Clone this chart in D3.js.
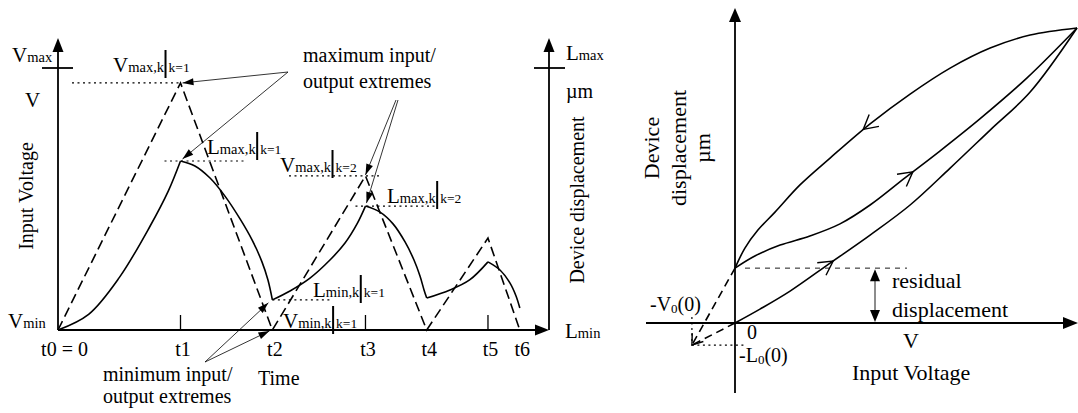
<!DOCTYPE html>
<html><head><meta charset="utf-8">
<script src="https://cdn.jsdelivr.net/npm/d3@7"></script>
<style>
body{margin:0;background:#fff}
svg{display:block;font-family:"Liberation Serif","Times New Roman",serif;fill:#000}
</style></head><body>
<svg id="chart" width="1078" height="413"></svg>
<script>
// ---- Time response: switching instants ----
const timeLabels = ["t0 = 0", "t1", "t2", "t3", "t4", "t5", "t6"];
const timeValues = [0, 1, 1.75, 2.51, 3.01, 3.51, 3.77];
const tickedTimes = [1, 2.51, 3.51];

// Input voltage, normalised (Vmin = 0, Vmax = 1), at each switching instant
const inputVoltage = [0, 0.943, 0, 0.588, 0, 0.351, 0];

// Device displacement, normalised (Lmin = 0, Lmax = 1); one branch per interval [t, L]
const dispBranch1 = [[0, 0], [0.25, 0.06], [0.5, 0.2], [0.75, 0.395], [0.9, 0.53], [1, 0.645]];
const dispBranch2 = [[1, 0.645], [1.118, 0.626], [1.241, 0.58], [1.363, 0.511], [1.486, 0.424], [1.584, 0.344], [1.665, 0.26], [1.714, 0.191], [1.75, 0.115]];
const dispBranch3 = [[1.75, 0.115], [1.894, 0.149], [2.057, 0.198], [2.22, 0.267], [2.343, 0.332], [2.441, 0.405], [2.51, 0.473]];
const dispBranch4 = [[2.51, 0.473], [2.629, 0.45], [2.735, 0.405], [2.833, 0.336], [2.906, 0.267], [2.955, 0.206], [2.988, 0.153], [3.01, 0.122]];
const dispBranch5 = [[3.01, 0.122], [3.2, 0.153], [3.36, 0.191], [3.51, 0.26]];
const dispBranch6 = [[3.51, 0.26], [3.608, 0.229], [3.69, 0.179], [3.739, 0.13], [3.77, 0.084]];

// ---- Hysteresis loop: displacement vs input voltage [V, L], normalised ----
const loopDescending = [[0, 0.186], [0.029, 0.254], [0.067, 0.315], [0.117, 0.376], [0.19, 0.468], [0.278, 0.559], [0.395, 0.675], [0.512, 0.776], [0.629, 0.864], [0.746, 0.932], [0.863, 0.976], [1, 1]];
const loopAscending = [[0, 0.186], [0.058, 0.227], [0.132, 0.264], [0.219, 0.295], [0.307, 0.336], [0.395, 0.4], [0.497, 0.492], [0.599, 0.583], [0.716, 0.692], [0.854, 0.831], [1, 1]];
const virginCurve = [[0, 0], [0.073, 0.047], [0.161, 0.108], [0.278, 0.203], [0.395, 0.298], [0.512, 0.4], [0.629, 0.525], [0.746, 0.654], [0.863, 0.783], [1, 1]];
const residualDisp = 0.186;
const offsetV0 = -0.126;
const offsetL0 = -0.075;

const svg = d3.select("#chart");

// ---------- helpers ----------
function filledArrow(g, x1, y1, x2, y2, len, wid) {
  const a = Math.atan2(y2 - y1, x2 - x1);
  const bx = x2 - len * Math.cos(a), by = y2 - len * Math.sin(a);
  const nx = -Math.sin(a) * wid / 2, ny = Math.cos(a) * wid / 2;
  g.append("path")
    .attr("d", `M${x2},${y2}L${bx + nx},${by + ny}L${bx - nx},${by - ny}Z`)
    .attr("fill", "#000").attr("stroke", "none");
}
function chevron(g, x, y, angle, len, spread) {
  const pts = [angle + Math.PI - spread, angle + Math.PI + spread]
    .map(b => [x + len * Math.cos(b), y + len * Math.sin(b)]);
  g.append("path")
    .attr("d", `M${pts[0][0]},${pts[0][1]}L${x},${y}L${pts[1][0]},${pts[1][1]}`)
    .attr("fill", "none").attr("stroke", "#000").attr("stroke-width", 1.4);
}
// point on a path (monotone in x) at a given x, with its local direction
function pointAtX(node, px, forward) {
  const total = node.getTotalLength();
  let lo = 0, hi = total;
  for (let i = 0; i < 40; i++) {
    const mid = (lo + hi) / 2;
    if (node.getPointAtLength(mid).x < px) lo = mid; else hi = mid;
  }
  const p = node.getPointAtLength(lo);
  const q = node.getPointAtLength(Math.min(total, lo + 4));
  const r = node.getPointAtLength(Math.max(0, lo - 4));
  let ang = Math.atan2(q.y - r.y, q.x - r.x);
  if (!forward) ang += Math.PI;
  return {x: p.x, y: p.y, ang};
}
// symbol with inline subscript, e.g. V max  (both on one baseline)
function symbolLabel(g, x, y, main, sub, size, subSize) {
  const t = g.append("text").attr("x", x).attr("y", y).attr("font-size", size);
  t.append("tspan").text(main);
  t.append("tspan").attr("font-size", subSize).text(sub);
  return t;
}
// extreme label: V max,k | k=1
function extremeLabel(g, x, y, main, sub, cond) {
  const t = symbolLabel(g, x, y, main, sub, 21, 14.5);
  const w = t.node().getComputedTextLength();
  const bx = x + w + 1.5;
  g.append("line").attr("x1", bx).attr("x2", bx).attr("y1", y - 22).attr("y2", y + 6)
    .attr("stroke", "#000").attr("stroke-width", 2);
  g.append("text").attr("x", bx + 3).attr("y", y).attr("font-size", 13.5).text(cond);
}

// ================= LEFT: time response =================
const left = svg.append("g");
const x = d3.scaleLinear().domain([0, 4]).range([58, 548]);
const y = d3.scaleLinear().domain([0, 1]).range([330, 68]);
const yL = d3.scaleLinear().domain([0, 1]).range([330, 68]);

// axes
const axisStroke = 1.8;
left.append("line").attr("x1", x(0)).attr("x2", x(0)).attr("y1", y(0)).attr("y2", 48)
  .attr("stroke", "#000").attr("stroke-width", axisStroke);
filledArrow(left, x(0), 60, x(0), 38, 14, 11);
left.append("line").attr("x1", x(0)).attr("x2", 540).attr("y1", y(0)).attr("y2", y(0))
  .attr("stroke", "#000").attr("stroke-width", axisStroke);
filledArrow(left, 530, y(0), 549, y(0), 14, 11);
left.append("line").attr("x1", 549).attr("x2", 549).attr("y1", y(0)).attr("y2", 48)
  .attr("stroke", "#000").attr("stroke-width", axisStroke);
filledArrow(left, 549, 60, 549, 38, 14, 11);
// Vmax / Lmax ticks
left.append("line").attr("x1", 42).attr("x2", 73).attr("y1", y(1)).attr("y2", y(1))
  .attr("stroke", "#000").attr("stroke-width", axisStroke);
left.append("line").attr("x1", 534).attr("x2", 565).attr("y1", yL(1)).attr("y2", yL(1))
  .attr("stroke", "#000").attr("stroke-width", axisStroke);

// time tick labels via d3 axis
const xAxis = d3.axisBottom(x).tickValues(timeValues)
  .tickFormat((d, i) => timeLabels[i]).tickSize(0).tickPadding(12);
const ax = left.append("g").attr("transform", `translate(0,${y(0)})`).call(xAxis);
ax.select(".domain").remove();
ax.selectAll("text").attr("font-size", 20).attr("font-family", "Liberation Serif")
  .attr("fill", "#000").attr("dx", (d, i) => i === 0 ? 6 : 2);
// inner tick marks
left.selectAll("line.tk").data(tickedTimes).join("line").attr("class", "tk")
  .attr("x1", d => x(d)).attr("x2", d => x(d)).attr("y1", y(0)).attr("y2", y(0) - 15)
  .attr("stroke", "#000").attr("stroke-width", 1.3);

// input voltage (dashed)
const vData = timeValues.map((t, i) => [t, inputVoltage[i]]);
left.append("path").datum(vData)
  .attr("d", d3.line().x(d => x(d[0])).y(d => y(d[1])))
  .attr("fill", "none").attr("stroke", "#000").attr("stroke-width", 1.6)
  .attr("stroke-dasharray", "10,5");

// displacement (solid)
const dispLine = d3.line().x(d => x(d[0])).y(d => yL(d[1])).curve(d3.curveCatmullRom.alpha(0.5));
[dispBranch1, dispBranch2, dispBranch3, dispBranch4, dispBranch5, dispBranch6].forEach(b => {
  left.append("path").datum(b).attr("d", dispLine)
    .attr("fill", "none").attr("stroke", "#000").attr("stroke-width", 1.6);
});

// dotted level markers at the extremes
const dotted = (x1, x2, yy) => left.append("line").attr("x1", x1).attr("x2", x2)
  .attr("y1", yy).attr("y2", yy).attr("stroke", "#000").attr("stroke-width", 1.2)
  .attr("stroke-dasharray", "2,3.5");
dotted(72, x(1), y(inputVoltage[1]));
dotted(x(1) - 16, 244, yL(dispBranch1[5][1]));
dotted(289, 379, y(inputVoltage[3]));
dotted(x(2.51) - 10, 438, yL(dispBranch3[6][1]));
dotted(x(1.75), 331, yL(dispBranch2[8][1]));

// extreme labels
extremeLabel(left, 113, 72, "V", "max,k", "k=1");
extremeLabel(left, 207, 154, "L", "max,k", "k=1");
extremeLabel(left, 280, 172, "V", "max,k", "k=2");
extremeLabel(left, 387, 203, "L", "max,k", "k=2");
extremeLabel(left, 313, 297, "L", "min,k", "k=1");
extremeLabel(left, 283, 328, "V", "min,k", "k=1");

// leader lines with arrowheads
const leader = (x1, y1, x2, y2) => {
  left.append("line").attr("x1", x1).attr("y1", y1).attr("x2", x2).attr("y2", y2)
    .attr("stroke", "#000").attr("stroke-width", 0.8);
  filledArrow(left, x1, y1, x2, y2, 11, 7);
};
leader(288, 72, x(1) + 2, y(inputVoltage[1]));
leader(288, 72, x(1) + 2, yL(dispBranch1[5][1]) - 2);
leader(396, 100, x(2.51), y(inputVoltage[3]) - 1);
leader(398, 100, x(2.51) + 1, yL(dispBranch3[6][1]) - 3);
leader(205, 362, x(1.75) - 4, yL(dispBranch2[8][1]) + 3);
leader(205, 362, x(1.75) - 3, y(0) + 1);

// axis captions
const cap = (g, xx, yy, txt, size) => g.append("text").attr("x", xx).attr("y", yy)
  .attr("font-size", size).text(txt);
symbolLabel(left, 12, 62, "V", "max", 21, 14.5);
cap(left, 25, 107, "V", 21);
symbolLabel(left, 8, 328, "V", "min", 21, 14.5);
left.append("text").attr("transform", "translate(33,196) rotate(-90)")
  .attr("text-anchor", "middle").attr("font-size", 20).text("Input Voltage");
symbolLabel(left, 566, 60, "L", "max", 21, 14.5);
cap(left, 566, 98, "\u00b5m", 20);
symbolLabel(left, 565, 338, "L", "min", 21, 14.5);
left.append("text").attr("transform", "translate(584,200) rotate(-90)")
  .attr("text-anchor", "middle").attr("font-size", 20).text("Device displacement");
cap(left, 258, 385, "Time", 20);
cap(left, 303, 62, "maximum input/", 20);
cap(left, 303, 88, "output extremes", 20);
cap(left, 103, 381, "minimum input/", 20);
cap(left, 103, 403, "output extremes", 20);

// ================= RIGHT: hysteresis loop =================
const right = svg.append("g");
const xr = d3.scaleLinear().domain([0, 1]).range([735, 1077]);
const yr = d3.scaleLinear().domain([0, 1]).range([323, 28]);

right.append("line").attr("x1", xr(0)).attr("x2", xr(0)).attr("y1", 393).attr("y2", 20)
  .attr("stroke", "#000").attr("stroke-width", axisStroke);
filledArrow(right, xr(0), 30, xr(0), 8, 14, 12);
right.append("line").attr("x1", 646).attr("x2", 1066).attr("y1", yr(0)).attr("y2", yr(0))
  .attr("stroke", "#000").attr("stroke-width", axisStroke);
filledArrow(right, 1060, yr(0), 1078, yr(0), 15, 12);

const loopLine = d3.line().x(d => xr(d[0])).y(d => yr(d[1])).curve(d3.curveCatmullRom.alpha(0.5));
const pDesc = right.append("path").datum(loopDescending).attr("d", loopLine)
  .attr("fill", "none").attr("stroke", "#000").attr("stroke-width", 1.6);
const pAsc = right.append("path").datum(loopAscending).attr("d", loopLine)
  .attr("fill", "none").attr("stroke", "#000").attr("stroke-width", 1.6);
const pVir = right.append("path").datum(virginCurve).attr("d", loopLine)
  .attr("fill", "none").attr("stroke", "#000").attr("stroke-width", 1.6);

// direction chevrons
[[pDesc, 0.375, false], [pAsc, 0.52, true], [pVir, 0.287, true]].forEach(([p, v, fwd]) => {
  const pt = pointAtX(p.node(), xr(v), fwd);
  chevron(right, pt.x, pt.y, pt.ang, 16, 0.5);
});

// extrapolation to the virtual origin (-V0(0), -L0(0))
const vx = xr(offsetV0), vy = yr(offsetL0);
right.append("line").attr("x1", xr(0)).attr("y1", yr(residualDisp)).attr("x2", vx).attr("y2", vy)
  .attr("stroke", "#000").attr("stroke-width", 1.6).attr("stroke-dasharray", "8,5");
right.append("line").attr("x1", xr(0)).attr("y1", yr(0)).attr("x2", vx).attr("y2", vy)
  .attr("stroke", "#000").attr("stroke-width", 1.6).attr("stroke-dasharray", "8,5");
chevron(right, vx, vy, Math.atan2(vy - yr(0), vx - xr(0)) - 0.45, 12, 0.62);
right.append("line").attr("x1", vx).attr("x2", vx).attr("y1", yr(0) - 6).attr("y2", vy)
  .attr("stroke", "#000").attr("stroke-width", 1.2).attr("stroke-dasharray", "2,3.5");
right.append("line").attr("x1", vx).attr("x2", xr(0) + 10).attr("y1", vy).attr("y2", vy)
  .attr("stroke", "#000").attr("stroke-width", 1.2).attr("stroke-dasharray", "2,3.5");

// residual displacement level and dimension arrow
right.append("line").attr("x1", xr(0) + 10).attr("x2", 907).attr("y1", yr(residualDisp)).attr("y2", yr(residualDisp))
  .attr("stroke", "#000").attr("stroke-width", 0.9).attr("stroke-dasharray", "5,5");
right.append("line").attr("x1", 875).attr("x2", 875).attr("y1", yr(residualDisp) + 8).attr("y2", yr(0) - 8)
  .attr("stroke", "#000").attr("stroke-width", 0.9);
filledArrow(right, 875, yr(residualDisp) + 20, 875, yr(residualDisp) + 1, 12, 10);
filledArrow(right, 875, yr(0) - 20, 875, yr(0) - 1, 12, 10);

// captions
cap(right, 892, 288, "residual", 22);
cap(right, 892, 317, "displacement", 22);
cap(right, 747, 339, "0", 20);
cap(right, 903, 348, "V", 22);
cap(right, 852, 380, "Input Voltage", 22);
const v0 = right.append("text").attr("x", 650).attr("y", 311).attr("font-size", 20);
v0.append("tspan").text("-V");
v0.append("tspan").attr("font-size", 13).attr("dy", 2).text("0");
v0.append("tspan").attr("dy", -2).text("(0)");
const l0 = right.append("text").attr("x", 739).attr("y", 362).attr("font-size", 20);
l0.append("tspan").text("-L");
l0.append("tspan").attr("font-size", 13).attr("dy", 2).text("0");
l0.append("tspan").attr("dy", -2).text("(0)");
right.append("text").attr("transform", "translate(659,148) rotate(-90)")
  .attr("text-anchor", "middle").attr("font-size", 22).text("Device");
right.append("text").attr("transform", "translate(686,148) rotate(-90)")
  .attr("text-anchor", "middle").attr("font-size", 22).text("displacement");
right.append("text").attr("transform", "translate(710,148) rotate(-90)")
  .attr("text-anchor", "middle").attr("font-size", 22).text("\u00b5m");
</script>
</body></html>
